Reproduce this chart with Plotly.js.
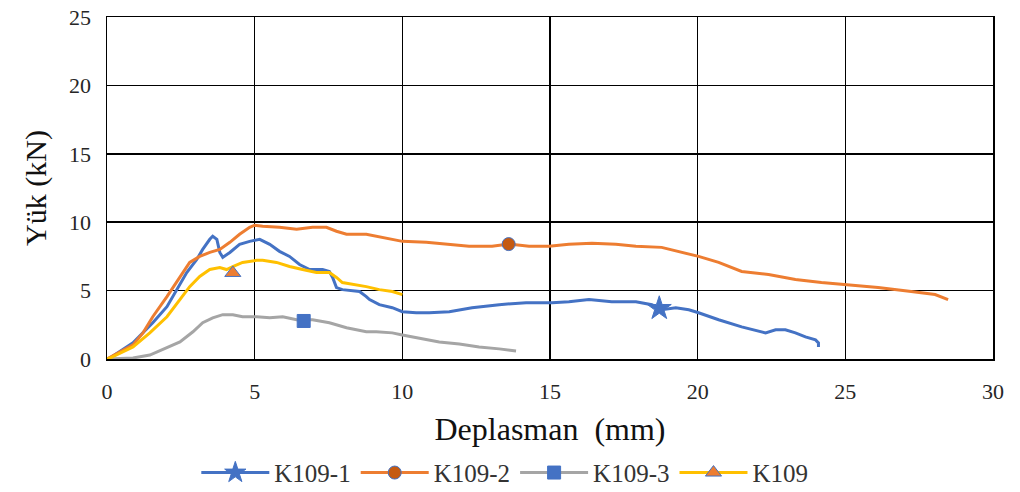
<!DOCTYPE html>
<html>
<head>
<meta charset="utf-8">
<script src="https://cdn.plot.ly/plotly-3.0.1.min.js"></script>
<style>html,body{margin:0;padding:0;background:#fff;}#chart{width:1020px;height:492px;}</style>
</head>
<body>
<div id="chart"></div>
<script>
// K109-1 (blue)
const k1X = [0,0.1,0.88,1.55,2.03,2.36,2.70,3.04,3.24,3.48,3.58,3.72,3.82,3.92,4.16,4.49,4.83,5.17,5.51,5.84,6.18,6.52,6.86,7.30,7.53,7.64,7.77,7.97,8.55,8.78,8.89,9.22,9.66,10.0,10.47,10.91,11.59,12.36,13.28,14.19,15.07,15.64,16.32,17.09,17.91,18.45,18.78,19.26,19.70,20.03,20.71,21.49,22.30,22.64,22.97,23.31,23.65,23.99,24.09,24.09];
const k1Y = [0,0.07,1.18,2.65,3.82,5.07,6.32,7.28,8.01,8.75,8.97,8.75,7.79,7.43,7.79,8.38,8.60,8.75,8.38,7.87,7.50,6.91,6.54,6.54,6.40,5.96,5.22,5.07,4.93,4.56,4.34,3.97,3.75,3.46,3.38,3.38,3.46,3.75,3.97,4.12,4.12,4.19,4.34,4.19,4.19,3.97,3.60,3.75,3.60,3.38,2.87,2.35,1.91,2.13,2.13,1.91,1.62,1.40,1.18,0.88];
// K109-2 (orange)
const k2X = [0,0.44,0.88,1.22,1.55,2.03,2.47,2.80,3.14,3.48,3.82,4.16,4.49,4.83,5.0,5.27,5.84,6.42,6.96,7.43,7.77,8.11,8.78,9.12,9.66,10.0,10.81,11.49,12.26,13.04,13.61,14.29,14.97,15.64,16.42,17.23,17.91,18.78,19.36,19.70,20.03,20.71,21.49,22.40,23.31,24.19,25.0,26.11,27.23,28.04,28.48];
const k2Y = [0,0.51,1.03,1.91,3.09,4.56,6.03,7.06,7.50,7.79,8.01,8.53,9.12,9.63,9.78,9.71,9.63,9.49,9.63,9.63,9.34,9.12,9.12,8.97,8.75,8.60,8.53,8.38,8.24,8.24,8.40,8.24,8.24,8.38,8.46,8.38,8.24,8.16,7.87,7.65,7.50,7.06,6.40,6.18,5.81,5.59,5.44,5.22,4.93,4.71,4.34];
// K109-3 (gray)
const k3X = [0,0.88,1.45,2.03,2.47,2.91,3.24,3.58,3.92,4.26,4.59,5.07,5.51,5.95,6.42,6.96,7.53,8.11,8.78,9.12,9.66,10.0,10.57,11.25,11.93,12.60,13.28,13.85];
const k3Y = [0,0.07,0.29,0.81,1.25,1.99,2.65,3.01,3.24,3.24,3.09,3.09,3.01,3.09,2.87,2.87,2.65,2.28,1.99,1.99,1.91,1.76,1.54,1.25,1.10,0.88,0.74,0.59];
// K109 (yellow)
const k4X = [0,0.1,0.88,1.45,2.03,2.47,2.80,3.14,3.48,3.82,4.05,4.26,4.59,5.07,5.27,5.74,6.18,6.62,7.09,7.53,7.77,7.97,8.45,8.78,9.22,9.66,10.0];
const k4Y = [0,0.07,0.88,1.91,3.09,4.34,5.29,6.03,6.54,6.69,6.54,6.76,7.06,7.21,7.21,7.06,6.76,6.54,6.32,6.32,5.96,5.59,5.44,5.29,5.07,4.93,4.71];

const seriesNames = ['K109-1','K109-2','K109-3','K109'];
// single marker point per series
const markX = [18.7, 13.6, 6.66, 4.26];
const markY = [3.7, 8.4, 2.78, 6.29];

const xTicks = [0,5,10,15,20,25,30];
const yTicks = [0,5,10,15,20,25];

const lineColors = ['#4472C4','#ED7D31','#A5A5A5','#FFC000'];
const symbols = ['star','circle','square','triangle-up'];
const mFill = ['#4472C4','#C55A11','#4472C4','#ED7D31'];
const mLine = ['#4472C4','#4472C4','#4472C4','#4472C4'];
const mSize = [18,13,13,14];

const xs = [k1X,k2X,k3X,k4X];
const ys = [k1Y,k2Y,k3Y,k4Y];

const traces = [];
for (let i = 0; i < 4; i++) {
  traces.push({
    x: xs[i], y: ys[i], type: 'scatter', mode: 'lines',
    line: {color: lineColors[i], width: 3},
    showlegend: false, legendgroup: 'g'+i, hoverinfo: 'skip'
  });
}
for (let i = 0; i < 4; i++) {
  traces.push({
    x: [markX[i]], y: [markY[i]], type: 'scatter', mode: 'lines+markers',
    name: seriesNames[i], legendgroup: 'g'+i,
    line: {color: lineColors[i], width: 3},
    marker: {symbol: symbols[i], size: mSize[i], color: mFill[i], line: {color: mLine[i], width: 1}}
  });
}

const fontFam = 'Liberation Serif';
const layout = {
  width: 1020, height: 492,
  margin: {l: 107, r: 27, t: 17, b: 133},
  paper_bgcolor: '#fff', plot_bgcolor: '#fff',
  font: {family: fontFam, color: '#262626', size: 22},
  showlegend: true,
  legend: {orientation: 'h', x: 0.449, xanchor: 'center', yref: 'container', y: 0.039, yanchor: 'middle',
           font: {family: fontFam, size: 25, color: '#333'}, itemwidth: 68, tracegroupgap: 0},
  xaxis: {
    range: [0, 30], tickvals: xTicks, ticktext: xTicks.map(String),
    showgrid: true, gridcolor: '#000', gridwidth: 1.5,
    showline: true, linecolor: '#000', linewidth: 1.5, mirror: true,
    zeroline: false, ticks: 'outside', ticklen: 12, tickcolor: 'rgba(0,0,0,0)',
    tickfont: {family: fontFam, size: 22, color: '#262626'},
    title: {text: 'Deplasman\u00a0\u00a0(mm)', font: {family: fontFam, size: 32, color: '#111'}, standoff: 14}
  },
  yaxis: {
    range: [0, 25], tickvals: yTicks, ticktext: yTicks.map(String),
    showgrid: true, gridcolor: '#000', gridwidth: 1.5,
    showline: true, linecolor: '#000', linewidth: 1.5, mirror: true,
    zeroline: false, ticks: 'outside', ticklen: 10, tickcolor: 'rgba(0,0,0,0)',
    tickfont: {family: fontFam, size: 22, color: '#262626'},
    title: {text: 'Yük (kN)', font: {family: fontFam, size: 30, color: '#111'}, standoff: 13}
  }
};
Plotly.newPlot('chart', traces, layout, {staticPlot: true, displayModeBar: false});
</script>
</body>
</html>
